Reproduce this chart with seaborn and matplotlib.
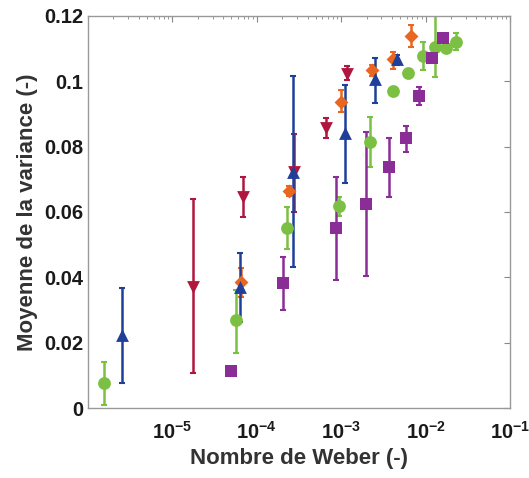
import matplotlib
matplotlib.use("Agg")
import matplotlib.pyplot as plt
import numpy as np
import pandas as pd
import seaborn as sns
from matplotlib.ticker import LogLocator, NullFormatter, FixedLocator

sns.set_style("white")
plt.rcParams['font.family'] = ['Liberation Sans', 'DejaVu Sans']
plt.rcParams['font.weight'] = 'bold'
plt.rcParams['mathtext.fontset'] = 'custom'
plt.rcParams['mathtext.rm'] = 'Liberation Sans:bold'
plt.rcParams['mathtext.bf'] = 'Liberation Sans:bold'
plt.rcParams['mathtext.default'] = 'bf'

# Data (Weber number vs mean variance, with error bars)
green_x = [1.55e-6, 5.7e-5, 2.28e-4, 9.4e-4, 2.19e-3, 4.1e-3, 6.2e-3, 9.3e-3, 1.28e-2, 1.75e-2, 2.28e-2]
green_y = [0.0077, 0.027, 0.0551, 0.0618, 0.0814, 0.097, 0.1026, 0.1077, 0.1105, 0.110, 0.112]
green_lo = [0.001, 0.017, 0.0487, 0.0588, 0.0738, 0.0965, 0.1021, 0.1035, 0.1013, 0.1095, 0.1096]
green_hi = [0.014, 0.036, 0.0615, 0.0646, 0.089, 0.0975, 0.1031, 0.112, 0.125, 0.1105, 0.1148]

blue_x = [2.53e-6, 6.3e-5, 2.69e-4, 1.11e-3, 2.5e-3, 4.57e-3]
blue_y = [0.0223, 0.037, 0.0723, 0.0842, 0.1007, 0.1068]
blue_lo = [0.0077, 0.0264, 0.0432, 0.0689, 0.0934, 0.105]
blue_hi = [0.0367, 0.0474, 0.1016, 0.0989, 0.1071, 0.108]

red_x = [1.75e-5, 6.9e-5, 2.8e-4, 6.6e-4, 1.17e-3]
red_y = [0.037, 0.0646, 0.0723, 0.0857, 0.1022]
red_lo = [0.0107, 0.0585, 0.060, 0.0826, 0.1004]
red_hi = [0.0640, 0.0707, 0.084, 0.0888, 0.1047]

orange_x = [6.5e-5, 2.4e-4, 1.0e-3, 2.32e-3, 4.1e-3, 6.7e-3]
orange_y = [0.0385, 0.0664, 0.0937, 0.1035, 0.1068, 0.1139]
orange_lo = [0.034, 0.065, 0.0906, 0.1016, 0.1038, 0.1105]
orange_hi = [0.043, 0.0678, 0.0973, 0.105, 0.109, 0.1172]

purple_x = [4.9e-5, 2.05e-4, 8.7e-4, 1.97e-3, 3.7e-3, 5.8e-3, 8.3e-3, 1.2e-2, 1.6e-2]
purple_y = [0.0113, 0.0383, 0.0551, 0.0624, 0.0738, 0.0826, 0.0955, 0.1071, 0.1133]
purple_lo = [0.0105, 0.030, 0.0392, 0.0404, 0.0646, 0.0784, 0.0927, 0.1062, 0.1125]
purple_hi = [0.0122, 0.0462, 0.0707, 0.0845, 0.0826, 0.0863, 0.0983, 0.108, 0.114]

series = [
    ("green", green_x, green_y, green_lo, green_hi, "#7bc043", "o", 85),
    ("orange", orange_x, orange_y, orange_lo, orange_hi, "#e8661f", "D", 50),
    ("purple", purple_x, purple_y, purple_lo, purple_hi, "#8a2d96", "s", 70),
    ("red", red_x, red_y, red_lo, red_hi, "#b0173f", "v", 85),
    ("blue", blue_x, blue_y, blue_lo, blue_hi, "#1f3f99", "^", 85),
]

rows = []
for name, xs, ys, lo, hi, c, m, s in series:
    for a, b, l, h in zip(xs, ys, lo, hi):
        rows.append({"serie": name, "We": a, "var": b, "lo": l, "hi": h})
df = pd.DataFrame(rows)

fig = plt.figure(figsize=(5.29, 4.78), dpi=100)
ax = fig.add_axes([0.166, 0.146, 0.798, 0.821])

for name, xs, ys, lo, hi, c, m, s in series:
    sub = df[df.serie == name]
    yerr = np.array([sub["var"] - sub["lo"], sub["hi"] - sub["var"]])
    ax.errorbar(sub["We"], sub["var"], yerr=yerr, fmt="none", ecolor=c,
                elinewidth=1.8, capsize=2, capthick=1.5, zorder=2)
    sns.scatterplot(data=sub, x="We", y="var", color=c, marker=m, s=s,
                    edgecolor=c, linewidth=0, ax=ax, zorder=3, legend=False)

ax.set_xscale("log")
ax.set_xlim(1e-6, 1e-1)
ax.set_ylim(0, 0.12)

ax.xaxis.set_major_locator(FixedLocator([1e-5, 1e-4, 1e-3, 1e-2, 1e-1]))
ax.set_xticklabels([r"$10^{-5}$", r"$10^{-4}$", r"$10^{-3}$", r"$10^{-2}$", r"$10^{-1}$"])
ax.xaxis.set_minor_locator(LogLocator(base=10, subs=np.arange(2, 10)))
ax.xaxis.set_minor_formatter(NullFormatter())

yt = [0, 0.02, 0.04, 0.06, 0.08, 0.1, 0.12]
ax.set_yticks(yt)
ax.set_yticklabels(["0", "0.02", "0.04", "0.06", "0.08", "0.1", "0.12"])

ax.tick_params(which="both", direction="in", top=True, right=True, color="#888888",
               labelsize=14.5, labelcolor="#1a1a1a")
ax.tick_params(which="major", length=4, width=0.8)
ax.tick_params(which="minor", length=2, width=0.6)
ax.tick_params(axis="x", which="major", pad=9)
for sp in ax.spines.values():
    sp.set_color("#999999")
    sp.set_linewidth(1.0)

ax.set_xlabel("Nombre de Weber (-)", fontsize=16, fontweight="bold", color="#333333")
ax.set_ylabel("Moyenne de la variance (-)", fontsize=16, fontweight="bold", color="#333333")

fig.savefig("out.png", dpi=100)
